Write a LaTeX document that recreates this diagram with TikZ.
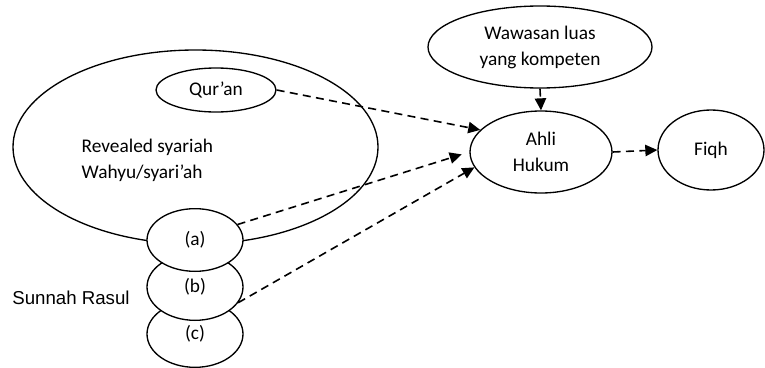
\documentclass[tikz,border=0pt]{standalone}
\usepackage{fontspec}
\setmainfont{Carlito}
\newfontfamily\arialfont{Liberation Sans}
\usepackage{tikz}
\usetikzlibrary{shapes, arrows.meta}

\begin{document}
\begin{tikzpicture}[x=0.75pt, y=-0.75pt,
        every node/.style={font=\fontsize{14.5}{19.5}\selectfont},
        oval/.style={ellipse, draw, line width=1pt, fill=white, inner sep=0pt, align=center},
        dasharrow/.style={line width=1.2pt, dash pattern=on 6pt off 4pt, -{Triangle[length=9pt,width=8.5pt]}}]
                \useasboundingbox (0,0) rectangle (765,368);
                \node[oval, minimum width=273.75pt, minimum height=145.5pt] (wahyu) at (195.5,147) {};
                \node[align=left, anchor=west] (wahyutext) at (77,160) {Revealed syariah\\Wahyu/syari’ah};
                \node[oval, minimum width=90pt, minimum height=33pt] (quran) at (216,90) {Qur’an};
                \node[oval, minimum width=72pt, minimum height=50pt] (c) at (195,334) {(c)};
                \node[oval, minimum width=72pt, minimum height=50pt] (b) at (195,287) {(b)};
                \node[oval, minimum width=72pt, minimum height=47pt] (a) at (195,240) {(a)};
                \node[font=\arialfont\fontsize{14}{17}\selectfont] (sunnah) at (71,298) {Sunnah Rasul};
                \node[oval, minimum width=168pt, minimum height=61.5pt] (wawasan) at (540,47) {Wawasan luas\\yang kompeten};
                \node[oval, minimum width=106.5pt, minimum height=61.5pt] (ahli) at (541,152) {Ahli\\Hukum};
                \node[oval, minimum width=79.5pt, minimum height=60pt] (fiqh) at (711,150) {Fiqh};
                \draw[dasharrow] (quran.east) -- (ahli.160);
                \draw[dasharrow, shorten >=6pt] (a.20) -- (ahli.180);
                \draw[dasharrow] (b.-20) -- (ahli.193);
                \draw[dasharrow] (wawasan.south) -- (ahli.north);
                \draw[dasharrow] (ahli.east) -- (fiqh.west);
            \end{tikzpicture}
\end{document}
